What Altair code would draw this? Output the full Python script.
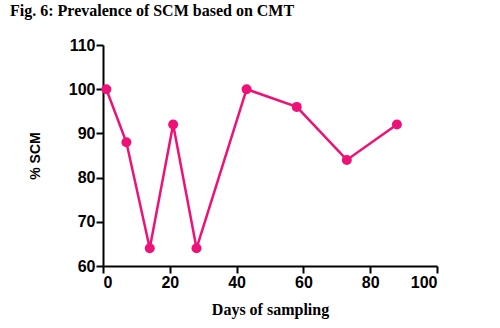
import altair as alt
import pandas as pd

days = [1, 7, 14, 21, 28, 43, 58, 73, 88]
scm = [100, 88, 64, 92, 64, 100, 96, 84, 92]

df = pd.DataFrame({"day": days, "scm": scm})

pink = "#EE1177"

base = alt.Chart(df).encode(
    x=alt.X("day:Q", scale=alt.Scale(domain=[0, 100], nice=False),
            axis=alt.Axis(title="Days of sampling", values=[0, 20, 40, 60, 80, 100],
                          titleFont="Liberation Serif", titleFontSize=16, titleFontWeight="bold",
                          titlePadding=11)),
    y=alt.Y("scm:Q", scale=alt.Scale(domain=[60, 110], nice=False, zero=False),
            axis=alt.Axis(title="% SCM", values=[60, 70, 80, 90, 100, 110],
                          titleFont="Liberation Sans", titleFontSize=14, titleFontWeight="bold",
                          titlePadding=26)),
)

line = base.mark_line(color=pink, strokeWidth=2.5)
pts = base.mark_circle(color=pink, size=100, opacity=1)

chart = (line + pts).properties(
    width=334, height=221,
    title=alt.TitleParams("Fig. 6: Prevalence of SCM based on CMT", anchor="start", frame="group",
                          font="Liberation Serif", fontSize=16, fontWeight="bold",
                          color="#000000", dx=-93, offset=18),
    autosize=alt.AutoSizeParams(type="none"),
    padding={"left": 103, "top": 45, "right": 63, "bottom": 62},
).configure_view(stroke=None).configure_axis(
    grid=False, domainColor="black", domainWidth=2, tickColor="black", tickWidth=2,
    tickSize=7, labelFont="Liberation Sans", labelFontSize=16, labelFontWeight="bold",
    labelColor="black", titleColor="black", labelPadding=1,
)

chart.save("out.html", embed_options={"renderer": "svg", "actions": False})
